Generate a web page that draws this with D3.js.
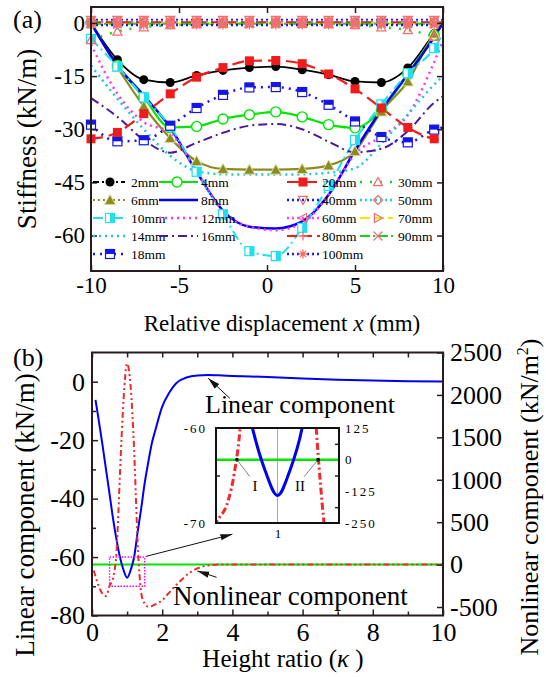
<!DOCTYPE html>
<html><head><meta charset="utf-8">
<script src="https://cdn.jsdelivr.net/npm/d3@7"></script>
<style>
html,body{margin:0;padding:0;background:#fff}
svg{display:block}
</style></head><body>
<svg id="chart" width="546" height="677"></svg>
<script>
// ===== Panel (a): stiffness vs relative displacement =====
const dispX  = [-10,-8.5,-7,-5.5,-4,-2.5,-1,0.5,2,3.5,5,6.5,8,9.5,10];
const s2mm   = [0,-10.4,-16.0,-16.8,-14.8,-13.4,-12.6,-12.3,-13.2,-14.6,-16.5,-16.8,-12.7,-3.0,0];
const s4mm   = [0,-12,-21,-29.5,-29.2,-27.1,-25.9,-25.1,-26.5,-28.7,-29.6,-24.5,-14.5,-3.5,0];
const s6mm   = [0,-12.5,-23.5,-32.5,-39,-41.2,-41.4,-41.4,-41.2,-40.2,-36.2,-25,-16.5,-3,0];
const s8mm   = [0,-12,-20.5,-29.5,-42,-53,-57.5,-58,-56,-48.5,-36,-24.5,-14.5,-4,0];
const s10mm  = [-4.5,-12.3,-21,-29.2,-42,-54,-64.4,-65.8,-57.8,-46,-33,-23,-14.2,-7.1,-3];
const s12mm  = [-6,-20,-28,-31,-42,-53,-57.5,-58.5,-56.5,-48.5,-37,-32,-26,-11,-5];
const s14mm  = [-12,-21.4,-30,-37.5,-41.8,-42.7,-42.8,-42.8,-42.7,-42.3,-41,-34,-25.8,-17.4,-15];
const s16mm  = [-21.2,-26.5,-33,-36.6,-33.8,-31,-29,-28.5,-30,-33.5,-36.5,-35.5,-30.5,-22.5,-20.7];
const s18mm  = [-28.7,-33.4,-33.1,-29,-24,-20.3,-18.2,-18.1,-19.5,-23.1,-27.8,-32.2,-33.7,-30.1,-29.5];
const s20mm  = [-32.7,-30.9,-25.6,-20,-15.3,-12.6,-10.7,-10.6,-11.5,-14.4,-18.6,-24,-29.5,-32.7,-33];
const s30mm  = [-4.8,-2.4,-1.2,-0.6,-0.3,-0.2,-0.1,-0.1,-0.2,-0.3,-0.6,-1.2,-2.0,-3.9,-5];
const s40mm  = [0.8,0.8,0.8,0.8,0.8,0.8,0.8,0.8,0.8,0.8,0.8,0.8,0.8,0.8,0.8];
const s50mm  = [0.4,0.4,0.4,0.4,0.4,0.4,0.4,0.4,0.4,0.4,0.4,0.4,0.4,0.4,0.4];
const s60mm  = [0.3,0.3,0.3,0.3,0.3,0.3,0.3,0.3,0.3,0.3,0.3,0.3,0.3,0.3,0.3];
const s70mm  = [-0.1,-0.1,-0.1,-0.1,-0.1,-0.1,-0.1,-0.1,-0.1,-0.1,-0.1,-0.1,-0.1,-0.1,-0.1];
const s80mm  = [0.2,0.2,0.2,0.2,0.2,0.2,0.2,0.2,0.2,0.2,0.2,0.2,0.2,0.2,0.2];
const s90mm  = [-0.2,-0.2,-0.2,-0.2,-0.2,-0.2,-0.2,-0.2,-0.2,-0.2,-0.2,-0.2,-0.2,-0.2,-0.2];
const s100mm = [-0.6,-0.6,-0.6,-0.6,-0.6,-0.6,-0.6,-0.6,-0.6,-0.6,-0.6,-0.6,-0.6,-0.6,-0.6];
const seriesNames = ["2mm","4mm","6mm","8mm","10mm","12mm","14mm","16mm","18mm","20mm","30mm","40mm","50mm","60mm","70mm","80mm","90mm","100mm"];
const seriesValues = [s2mm,s4mm,s6mm,s8mm,s10mm,s12mm,s14mm,s16mm,s18mm,s20mm,s30mm,s40mm,s50mm,s60mm,s70mm,s80mm,s90mm,s100mm];
const xTicksA = [-10,-5,0,5,10];
const yTicksA = [0,-15,-30,-45,-60];

// ===== Panel (b): linear / nonlinear components vs height ratio =====
const kappaLin = [0.1,0.2,0.3,0.4,0.5,0.6,0.7,0.8,0.9,1.0,1.1,1.2,1.3,1.4,1.5,1.6,1.7,1.8,2.0,2.2,2.4,2.6,2.8,3.0,3.3,3.6,4,5,6,7,8,9,10];
const linComp  = [-6.2,-13.8,-21.7,-30.1,-38.4,-46.9,-54.1,-60.2,-64.5,-67.1,-64.5,-60.0,-51.5,-43.5,-34.8,-27.8,-21.3,-16.8,-8.5,-3.8,-0.5,1.0,1.8,2.1,2.3,2.2,2.0,1.6,1.1,0.7,0.4,0.2,0.1];
const kappaNon = [0.05,0.1,0.2,0.3,0.4,0.5,0.6,0.65,0.7,0.75,0.8,0.9,1.0,1.1,1.2,1.25,1.3,1.35,1.4,1.5,1.6,1.7,1.8,2.0,2.2,2.4,2.6,2.8,3.0,3.2,3.4,3.6,4,5,6,7,8,9,10];
const nonComp  = [-70,-140,-265,-345,-370,-250,-160,-50,150,600,1100,1950,2370,2100,1350,800,250,-100,-330,-460,-495,-490,-470,-420,-330,-240,-160,-90,-45,-18,-5,0,0,0,0,0,0,0,0];
const xTicksB  = [0,2,4,6,8,10];
const xMinorB  = [1,3,5,7,9];
const yTicksBL = [0,-20,-40,-60,-80];
const yMinorBL = [-10,-30,-50,-70];
const yTicksBR = [-500,0,500,1000,1500,2000,2500];
const insetTicksL = [-60,-70];
const insetTicksR = [125,0,-125,-250];
const insetMinorR = [62.5,-62.5,-187.5];
const insetTickX = [1];
const zoomBox = {k0:0.5,k1:1.5,v0:-70,v1:-60};
const crossPts = [{k:0.67,label:"I"},{k:1.33,label:"II"}];

// ===== styles =====
const FONT = '"Liberation Serif","Times New Roman",serif';
const RED = "#f07070";
const styleA = {
 "2mm":{c:"#000000",w:1.8,d:null,ld:"6,3,2,3",m:"circleF",mc:"#000"},
 "4mm":{c:"#00e600",w:2.2,d:null,ld:null,m:"circleO",mc:"#00e600"},
 "6mm":{c:"#8b8b1e",w:2.2,d:null,ld:"2,3",m:"triF",mc:"#8b8b1e"},
 "8mm":{c:"#0000f0",w:2.5,d:null,ld:null,m:null},
 "10mm":{c:"#20e0f0",w:2,d:"10,4,2,4",ld:"10,4,2,4",m:"sqHalfV",mc:"#20e0f0"},
 "12mm":{c:"#ff30ff",w:2.5,d:"2,4",ld:"2,4",m:null},
 "14mm":{c:"#20c8d0",w:2.5,d:"2,4",ld:"2,4",m:null},
 "16mm":{c:"#4b1a98",w:2,d:"9,4,2,4",ld:"9,4,2,4",m:null},
 "18mm":{c:"#1515e6",w:2.5,d:"2,5",ld:"2,5",m:"sqHalfH",mc:"#1515e6"},
 "20mm":{c:"#ee1c1c",w:2.2,d:"12,6",ld:"12,6",m:"sqF",mc:"#ee1c1c"},
 "30mm":{c:"#22cc22",w:2.5,d:"2,8",ld:"2,8",m:"triO",mc:RED},
 "40mm":{c:"#1a1ae6",w:2.5,d:"2,3",ld:"2,3",m:"triDO",mc:RED},
 "50mm":{c:"#20d0e0",w:2.5,d:"2,3",ld:"2,3",m:"diaO",mc:RED},
 "60mm":{c:"#ff40ff",w:2.5,d:"2,3",ld:"2,3",m:"triLO",mc:RED},
 "70mm":{c:"#f5e600",w:2,d:"10,4",ld:"10,4",m:"triRO",mc:RED},
 "80mm":{c:"#ee1c1c",w:2,d:"10,5",ld:"10,5",m:"plus",mc:RED},
 "90mm":{c:"#22cc22",w:2,d:"10,3,2,3",ld:"10,3,2,3",m:"cross",mc:RED},
 "100mm":{c:"#1a1ae6",w:2.5,d:"2,3",ld:"2,3",m:"star",mc:RED}
};
const legendCols = [{x1:93,x2:125,mx:110,tx:131},{x1:159,x2:198,mx:177,tx:201},{x1:287,x2:320,mx:303,tx:322},{x1:360,x2:393,mx:378,tx:398}];
const legendRows = [182,200,218,236,254];
const legendLayout = [["2mm",0,0],["6mm",0,1],["10mm",0,2],["14mm",0,3],["18mm",0,4],
  ["4mm",1,0],["8mm",1,1],["12mm",1,2],["16mm",1,3],
  ["20mm",2,0],["40mm",2,1],["60mm",2,2],["80mm",2,3],["100mm",2,4],
  ["30mm",3,0],["50mm",3,1],["70mm",3,2],["90mm",3,3]];

const svg = d3.select("#chart");
const defs = svg.append("defs");
defs.append("marker").attr("id","ah").attr("viewBox","0 0 12 8").attr("refX",12).attr("refY",4)
  .attr("markerWidth",12).attr("markerHeight",8).attr("markerUnits","userSpaceOnUse").attr("orient","auto")
  .append("path").attr("d","M0,0.8 L12,4 L0,7.2 Z").attr("fill","#111");

function drawMarker(g, type, c, x, y){
  if(!type) return;
  const r = 4.5;
  const P = pts => "M"+pts.map(p=>p.join(",")).join("L")+"Z";
  const open = sel => sel.attr("fill","none").attr("stroke",c).attr("stroke-width",1.3);
  switch(type){
    case "circleF": g.append("circle").attr("cx",x).attr("cy",y).attr("r",r).attr("fill",c); break;
    case "circleO": g.append("circle").attr("cx",x).attr("cy",y).attr("r",r+0.5).attr("fill","#fff").attr("stroke",c).attr("stroke-width",1.4); break;
    case "triF": g.append("path").attr("d",P([[x,y-r-1],[x+r+1,y+r],[x-r-1,y+r]])).attr("fill",c).attr("stroke","#d8d8a8").attr("stroke-width",1); break;
    case "sqHalfV":
      g.append("rect").attr("x",x-r).attr("y",y-r).attr("width",2*r).attr("height",2*r).attr("fill","#fff").attr("stroke",c).attr("stroke-width",1.2);
      g.append("rect").attr("x",x).attr("y",y-r).attr("width",r).attr("height",2*r).attr("fill",c); break;
    case "sqHalfH":
      g.append("rect").attr("x",x-r).attr("y",y-r).attr("width",2*r).attr("height",2*r).attr("fill","#fff").attr("stroke",c).attr("stroke-width",1.2);
      g.append("rect").attr("x",x-r).attr("y",y-r).attr("width",2*r).attr("height",r).attr("fill",c); break;
    case "sqF": g.append("rect").attr("x",x-r).attr("y",y-r).attr("width",2*r).attr("height",2*r).attr("fill",c); break;
    case "triO": open(g.append("path").attr("d",P([[x,y-r],[x+r,y+r*0.8],[x-r,y+r*0.8]]))); break;
    case "triDO": open(g.append("path").attr("d",P([[x,y+r],[x+r,y-r*0.8],[x-r,y-r*0.8]]))); break;
    case "diaO": open(g.append("path").attr("d",P([[x,y-r],[x+r,y],[x,y+r],[x-r,y]]))); break;
    case "triLO": open(g.append("path").attr("d",P([[x-r,y],[x+r*0.8,y-r],[x+r*0.8,y+r]]))); break;
    case "triRO": open(g.append("path").attr("d",P([[x+r,y],[x-r*0.8,y-r],[x-r*0.8,y+r]]))); break;
    case "plus": open(g.append("path").attr("d",`M${x-r},${y}H${x+r}M${x},${y-r}V${y+r}`)); break;
    case "cross": open(g.append("path").attr("d",`M${x-r},${y-r}L${x+r},${y+r}M${x+r},${y-r}L${x-r},${y+r}`)); break;
    case "star": open(g.append("path").attr("d",`M${x-r},${y}H${x+r}M${x},${y-r}V${y+r}M${x-r*0.7},${y-r*0.7}L${x+r*0.7},${y+r*0.7}M${x+r*0.7},${y-r*0.7}L${x-r*0.7},${y+r*0.7}`)); break;
  }
}

function styleAxis(g, size){
  g.select(".domain").remove();
  g.attr("font-family",FONT).attr("font-size",size);
  g.selectAll("text").attr("fill","#000");
  g.selectAll("line").attr("stroke","#222").attr("stroke-width",1.5);
}
const fmt = d => String(d);

// ================= Panel (a) =================
const xa = d3.scaleLinear().domain([-10,10]).range([91,443]);
const ya = d3.scaleLinear().domain([-70,4.5]).range([271,7]);
const gA = svg.append("g");
const lineA = d3.line().x((d,i)=>xa(dispX[i])).y(d=>ya(d)).curve(d3.curveMonotoneX);

// draw order: larger curves first, near-zero curves on top
seriesNames.forEach((n,si)=>{
  const st = styleA[n];
  gA.append("path").datum(seriesValues[si]).attr("d",lineA)
    .attr("fill","none").attr("stroke",st.c).attr("stroke-width",st.w)
    .attr("stroke-dasharray",st.d);
});
seriesNames.forEach((n,si)=>{
  const st = styleA[n];
  const mg = gA.append("g");
  seriesValues[si].forEach((v,i)=>{
    if(i < dispX.length-1) drawMarker(mg, st.m, st.mc, xa(dispX[i]), ya(v));
  });
});

// frame + axes (a)
gA.append("g").attr("transform","translate(0,271)")
  .call(d3.axisBottom(xa).tickValues(xTicksA).tickFormat(fmt).tickSizeInner(-6).tickSizeOuter(0).tickPadding(6))
  .call(g=>styleAxis(g,23));
gA.append("g").attr("transform","translate(0,7)")
  .call(d3.axisTop(xa).tickValues(xTicksA).tickFormat("").tickSizeInner(-6).tickSizeOuter(0))
  .call(g=>styleAxis(g,23));
gA.append("g").attr("transform","translate(91,0)")
  .call(d3.axisLeft(ya).tickValues(yTicksA).tickFormat(fmt).tickSizeInner(-6).tickSizeOuter(0).tickPadding(6))
  .call(g=>styleAxis(g,23));
gA.append("g").attr("transform","translate(443,0)")
  .call(d3.axisRight(ya).tickValues(yTicksA).tickFormat("").tickSizeInner(-6).tickSizeOuter(0))
  .call(g=>styleAxis(g,23));
gA.append("rect").attr("x",91).attr("y",7).attr("width",352).attr("height",264)
  .attr("fill","none").attr("stroke","#2a1c1c").attr("stroke-width",2);

// legend (a)
const gL = svg.append("g");
legendLayout.forEach(([n,c,r])=>{
  const st = styleA[n], col = legendCols[c], y = legendRows[r];
  gL.append("line").attr("x1",col.x1).attr("x2",col.x2).attr("y1",y).attr("y2",y)
    .attr("stroke",st.c).attr("stroke-width",st.w).attr("stroke-dasharray",st.ld);
  drawMarker(gL, st.m, st.mc, col.mx, y);
  gL.append("text").attr("x",col.tx).attr("y",y).attr("dy","0.35em")
    .attr("font-family",FONT).attr("font-size",13.5).text(n);
});

// titles (a)
svg.append("text").attr("x",13).attr("y",28).attr("font-family",FONT).attr("font-size",26).text("(a)");
svg.append("text").attr("transform","translate(36,139) rotate(-90)").attr("text-anchor","middle")
  .attr("font-family",FONT).attr("font-size",27).text("Stiffness (kN/m)");
const xtA = svg.append("text").attr("x",282).attr("y",331).attr("text-anchor","middle")
  .attr("font-family",FONT).attr("font-size",23);
xtA.append("tspan").text("Relative displacement ");
xtA.append("tspan").attr("font-style","italic").text("x");
xtA.append("tspan").text(" (mm)");

// ================= Panel (b) =================
const xb  = d3.scaleLinear().domain([0,10]).range([92,443]);
const ybL = d3.scaleLinear().domain([-80,10]).range([615.5,352.5]);
const ybR = d3.scaleLinear().domain([-600,2500]).range([615.5,352.5]);
const gB = svg.append("g");

gB.append("line").attr("x1",xb(0)).attr("x2",xb(10)).attr("y1",ybR(0)).attr("y2",ybR(0))
  .attr("stroke","#00e600").attr("stroke-width",2);
gB.append("path").datum(linComp)
  .attr("d",d3.line().x((d,i)=>xb(kappaLin[i])).y(d=>ybL(d)).curve(d3.curveMonotoneX))
  .attr("fill","none").attr("stroke","#0000f0").attr("stroke-width",2);
gB.append("path").datum(nonComp)
  .attr("d",d3.line().x((d,i)=>xb(kappaNon[i])).y(d=>ybR(d)).curve(d3.curveMonotoneX))
  .attr("fill","none").attr("stroke","#f02a2a").attr("stroke-width",2).attr("stroke-dasharray","6,3,2,3,2,3");

// zoom box
gB.append("rect").attr("x",xb(zoomBox.k0)).attr("y",ybL(zoomBox.v1))
  .attr("width",xb(zoomBox.k1)-xb(zoomBox.k0)).attr("height",ybL(zoomBox.v0)-ybL(zoomBox.v1))
  .attr("fill","none").attr("stroke","#ff00ff").attr("stroke-width",1.4).attr("stroke-dasharray","1.5,1.5");

// axes (b)
gB.append("g").attr("transform","translate(0,615.5)")
  .call(d3.axisBottom(xb).tickValues(xTicksB).tickFormat(fmt).tickSizeInner(-6).tickSizeOuter(0).tickPadding(7))
  .call(g=>styleAxis(g,26));
gB.append("g").attr("transform","translate(0,615.5)")
  .call(d3.axisBottom(xb).tickValues(xMinorB).tickFormat("").tickSizeInner(-4).tickSizeOuter(0))
  .call(g=>styleAxis(g,26));
gB.append("g").attr("transform","translate(0,352.5)")
  .call(d3.axisTop(xb).tickValues(xTicksB.concat(xMinorB)).tickFormat("").tickSizeInner(-5).tickSizeOuter(0))
  .call(g=>styleAxis(g,26));
gB.append("g").attr("transform","translate(92,0)")
  .call(d3.axisLeft(ybL).tickValues(yTicksBL).tickFormat(fmt).tickSizeInner(-6).tickSizeOuter(0).tickPadding(7))
  .call(g=>styleAxis(g,26));
gB.append("g").attr("transform","translate(92,0)")
  .call(d3.axisLeft(ybL).tickValues(yMinorBL).tickFormat("").tickSizeInner(-4).tickSizeOuter(0))
  .call(g=>styleAxis(g,26));
gB.append("g").attr("transform","translate(443,0)")
  .call(d3.axisRight(ybR).tickValues(yTicksBR).tickFormat(fmt).tickSizeInner(-6).tickSizeOuter(0).tickPadding(7))
  .call(g=>styleAxis(g,26));
gB.append("rect").attr("x",92).attr("y",352.5).attr("width",351).attr("height",263)
  .attr("fill","none").attr("stroke","#2a1c1c").attr("stroke-width",2);

// annotations (b)
function arrow(p0, p1, yScale){
  gB.append("line").attr("x1",xb(p0[0])).attr("y1",yScale(p0[1])).attr("x2",xb(p1[0])).attr("y2",yScale(p1[1]))
    .attr("stroke","#111").attr("stroke-width",1).attr("marker-end","url(#ah)");
}
arrow([3.93,-5.7],[3.31,1.2],ybL);
arrow([1.53,-59.8],[4.0,-52.2],ybL);
arrow([3.55,-150],[3.0,-75],ybR);
gB.append("text").attr("x",xb(3.22)).attr("y",ybL(-10.7)).attr("font-family",FONT).attr("font-size",26).text("Linear component");
gB.append("text").attr("x",xb(2.31)).attr("y",ybR(-476)).attr("font-family",FONT).attr("font-size",27).text("Nonlinear component");

// ---- inset ----
const xi  = d3.scaleLinear().domain([zoomBox.k0,zoomBox.k1]).range([216,339]);
const yiL = d3.scaleLinear().domain([zoomBox.v0,zoomBox.v1]).range([523,428]);
const yiR = d3.scaleLinear().domain([-250,125]).range([523,428]);
defs.append("clipPath").attr("id","insetClip").append("rect").attr("x",216).attr("y",428).attr("width",123).attr("height",95);
const gI = svg.append("g");
gI.append("rect").attr("x",216).attr("y",428).attr("width",123).attr("height",95).attr("fill","#fff");
const gIc = gI.append("g").attr("clip-path","url(#insetClip)");
gIc.append("line").attr("x1",xi(1)).attr("x2",xi(1)).attr("y1",428).attr("y2",523).attr("stroke","#aaa").attr("stroke-width",1);
gIc.append("line").attr("x1",216).attr("x2",339).attr("y1",yiR(0)).attr("y2",yiR(0)).attr("stroke","#00e600").attr("stroke-width",2.5);
gIc.append("path").datum(linComp)
  .attr("d",d3.line().x((d,i)=>xi(kappaLin[i])).y(d=>yiL(d)).curve(d3.curveMonotoneX))
  .attr("fill","none").attr("stroke","#0000f0").attr("stroke-width",3);
gIc.append("path").datum(nonComp)
  .attr("d",d3.line().x((d,i)=>xi(kappaNon[i])).y(d=>yiR(d)).curve(d3.curveMonotoneX))
  .attr("fill","none").attr("stroke","#f02a2a").attr("stroke-width",3).attr("stroke-dasharray","7,3,2,3");
crossPts.forEach((p,i)=>{
  const cx = xi(p.k), cy = yiR(0);
  const lx = i===0 ? cx+13 : cx-14;
  gI.append("line").attr("x1",cx).attr("y1",cy).attr("x2",lx).attr("y2",cy+17).attr("stroke","#666").attr("stroke-width",0.8);
  gI.append("circle").attr("cx",cx).attr("cy",cy).attr("r",1.8).attr("fill","#000");
  gI.append("text").attr("x",i===0?lx+5:lx-4).attr("y",cy+31).attr("text-anchor","middle")
    .attr("font-family",FONT).attr("font-size",15).text(p.label);
});
gI.append("rect").attr("x",216).attr("y",428).attr("width",123).attr("height",95)
  .attr("fill","none").attr("stroke","#111").attr("stroke-width",2);
// inset ticks/labels
gI.append("g").attr("transform","translate(216,0)")
  .call(d3.axisLeft(yiL).tickValues(insetTicksL).tickFormat(fmt).tickSizeInner(0).tickSizeOuter(0).tickPadding(9))
  .call(g=>{styleAxis(g,13); g.selectAll("text").attr("letter-spacing",2);});
gI.append("g").attr("transform","translate(216,0)")
  .call(d3.axisLeft(yiL).tickValues([-65]).tickFormat("").tickSizeInner(-4).tickSizeOuter(0))
  .call(g=>styleAxis(g,13));
gI.append("g").attr("transform","translate(339,0)")
  .call(d3.axisRight(yiR).tickValues(insetTicksR).tickFormat(fmt).tickSizeInner(0).tickSizeOuter(0).tickPadding(6))
  .call(g=>{styleAxis(g,13); g.selectAll("text").attr("letter-spacing",2);});
gI.append("g").attr("transform","translate(339,0)")
  .call(d3.axisRight(yiR).tickValues(insetMinorR).tickFormat("").tickSizeInner(-4).tickSizeOuter(0))
  .call(g=>styleAxis(g,13));
gI.append("g").attr("transform","translate(0,523)")
  .call(d3.axisBottom(xi).tickValues(insetTickX).tickFormat(fmt).tickSizeInner(0).tickSizeOuter(0).tickPadding(6))
  .call(g=>styleAxis(g,13));

// titles (b)
svg.append("text").attr("x",13).attr("y",366).attr("font-family",FONT).attr("font-size",26).text("(b)");
svg.append("text").attr("transform","translate(34,515) rotate(-90)").attr("text-anchor","middle")
  .attr("font-family",FONT).attr("font-size",27).text("Linear component (kN/m)");
const rt = svg.append("text").attr("transform","translate(538,497) rotate(-90)").attr("text-anchor","middle")
  .attr("font-family",FONT).attr("font-size",26);
rt.append("tspan").text("Nonlinear component (kN/m");
rt.append("tspan").attr("font-size",16).attr("dy",-10).text("2");
rt.append("tspan").attr("dy",10).text(")");
const xtB = svg.append("text").attr("x",283).attr("y",667).attr("text-anchor","middle")
  .attr("font-family",FONT).attr("font-size",25);
xtB.append("tspan").text("Height ratio (");
xtB.append("tspan").attr("font-style","italic").text("κ");
xtB.append("tspan").text(" )");
</script>
</body></html>
